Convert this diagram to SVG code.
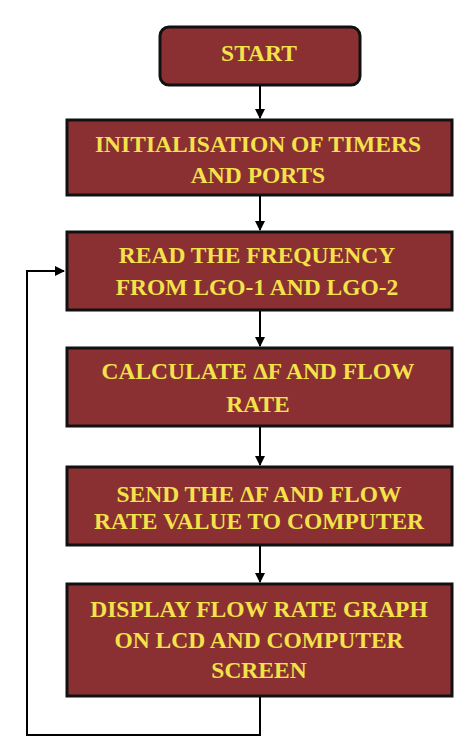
<svg xmlns="http://www.w3.org/2000/svg" width="474" height="752" viewBox="0 0 474 752">
<defs>
<marker id="ah" markerWidth="10" markerHeight="10" refX="9" refY="5" orient="auto" markerUnits="userSpaceOnUse">
<path d="M0,0 L10,5 L0,10 Z" fill="#000"/>
</marker>
<style>
.box{fill:#8a3033;stroke:#111;stroke-width:3}
.t{font-family:"Liberation Serif","Times New Roman",serif;font-weight:bold;font-size:23.5px;fill:#f3e24a;text-anchor:middle}
.c{fill:none;stroke:#000;stroke-width:2}
</style>
</defs>
<rect width="474" height="752" fill="#fff"/>
<g id="start">
<rect class="box" x="160" y="27" width="200" height="58" rx="9"/>
<text class="t" x="259" y="61">START</text>
</g>
<g id="init">
<rect class="box" x="67" y="120" width="385" height="75"/>
<text class="t" x="258" y="152">INITIALISATION OF TIMERS</text>
<text class="t" x="258" y="183">AND PORTS</text>
</g>
<g id="read">
<rect class="box" x="67" y="232" width="385" height="78"/>
<text class="t" x="257" y="263">READ THE FREQUENCY</text>
<text class="t" x="257" y="295">FROM LGO-1 AND LGO-2</text>
</g>
<g id="calc">
<rect class="box" x="67" y="348" width="385" height="78"/>
<text class="t" x="258" y="379">CALCULATE ΔF AND FLOW</text>
<text class="t" x="258" y="412">RATE</text>
</g>
<g id="send">
<rect class="box" x="67" y="467" width="385" height="78"/>
<text class="t" x="259" y="502">SEND THE ΔF AND FLOW</text>
<text class="t" x="259" y="529">RATE VALUE TO COMPUTER</text>
</g>
<g id="display">
<rect class="box" x="67" y="584" width="385" height="112"/>
<text class="t" x="259" y="617">DISPLAY FLOW RATE GRAPH</text>
<text class="t" x="259" y="648">ON LCD AND COMPUTER</text>
<text class="t" x="259" y="678">SCREEN</text>
</g>
<g id="connectors">
<line class="c" x1="260" y1="86" x2="260" y2="118" marker-end="url(#ah)"/>
<line class="c" x1="260" y1="196" x2="260" y2="230" marker-end="url(#ah)"/>
<line class="c" x1="260" y1="311" x2="260" y2="346" marker-end="url(#ah)"/>
<line class="c" x1="260" y1="427" x2="260" y2="465" marker-end="url(#ah)"/>
<line class="c" x1="260" y1="546" x2="260" y2="582" marker-end="url(#ah)"/>
<polyline class="c" points="260,697 260,735 27,735 27,271 64,271" marker-end="url(#ah)"/>
</g>
</svg>
